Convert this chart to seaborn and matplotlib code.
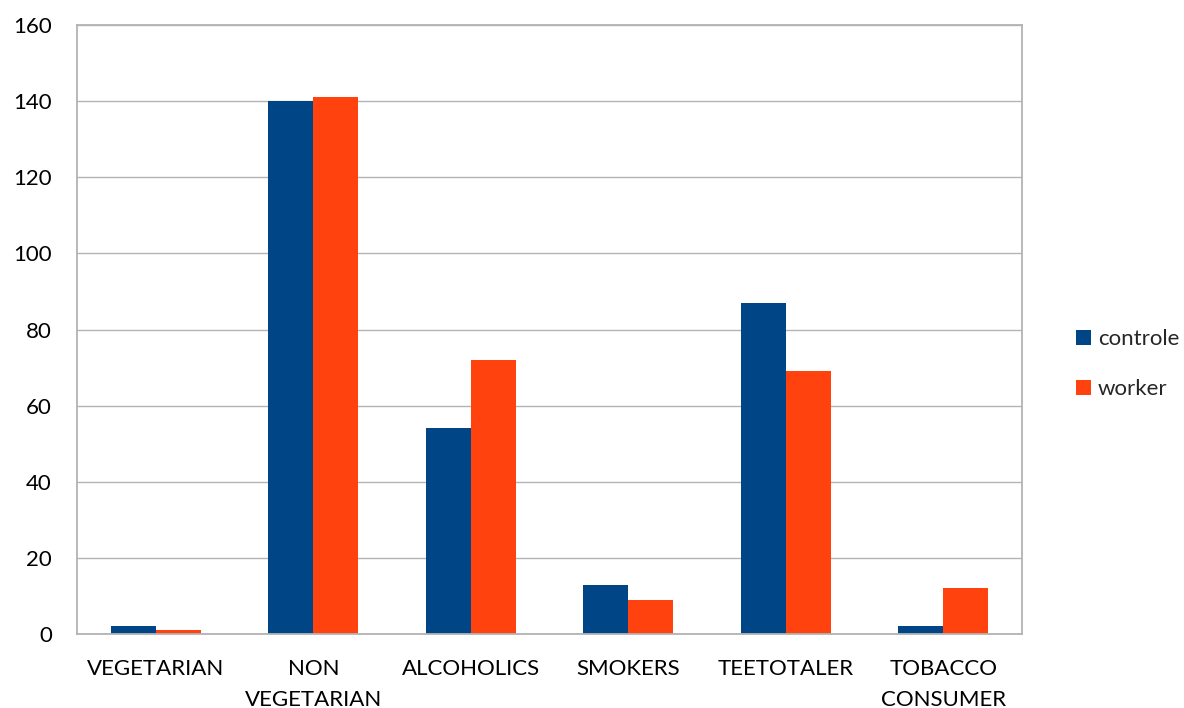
import matplotlib
matplotlib.use("Agg")
import matplotlib.pyplot as plt
import seaborn as sns
import pandas as pd

categories = ["VEGETARIAN", "NON\nVEGETARIAN", "ALCOHOLICS", "SMOKERS", "TEETOTALER", "TOBACCO\nCONSUMER"]
controle = [2, 140, 54, 13, 87, 2]
worker = [1, 141, 72, 9, 69, 12]
series_names = ["controle", "worker"]

df = pd.DataFrame({
    "category": categories * 2,
    "value": controle + worker,
    "series": [series_names[0]] * len(categories) + [series_names[1]] * len(categories),
})

sns.set_theme(style="white")
plt.rcParams['font.family'] = ['Lato', 'DejaVu Sans']

fig = plt.figure(figsize=(11.84, 7.08), dpi=100)
ax = fig.add_axes([77/1184, 74/708, 945/1184, 609/708])

sns.barplot(data=df, x="category", y="value", hue="series",
            palette=["#004586", "#ff420e"], width=0.57, ax=ax,
            saturation=1, edgecolor="none", linewidth=0, legend=True)

ax.set_ylim(0, 160)
ax.set_yticks(range(0, 161, 20))
ax.set_xlim(-0.5, 5.5)
ax.grid(axis="y", color="#b3b3b3", linewidth=1)
ax.set_axisbelow(True)
for s in ax.spines.values():
    s.set_color("#b3b3b3")
    s.set_linewidth(1.3)
ax.set_xlabel("")
ax.set_ylabel("")
ax.tick_params(axis="both", length=0, labelsize=16, colors="black")
ax.tick_params(axis="x", pad=18)
ax.tick_params(axis="y", pad=18)
for t in ax.get_xticklabels():
    t.set_linespacing(1.7)

ax.legend(loc="center left", bbox_to_anchor=(1056/1184, (708 - 364)/708),
          bbox_transform=fig.transFigure, frameon=False, fontsize=16,
          handlelength=0.68, handleheight=0.68, handletextpad=0.3, labelspacing=1.35)

fig.savefig("out.png", dpi=100)
